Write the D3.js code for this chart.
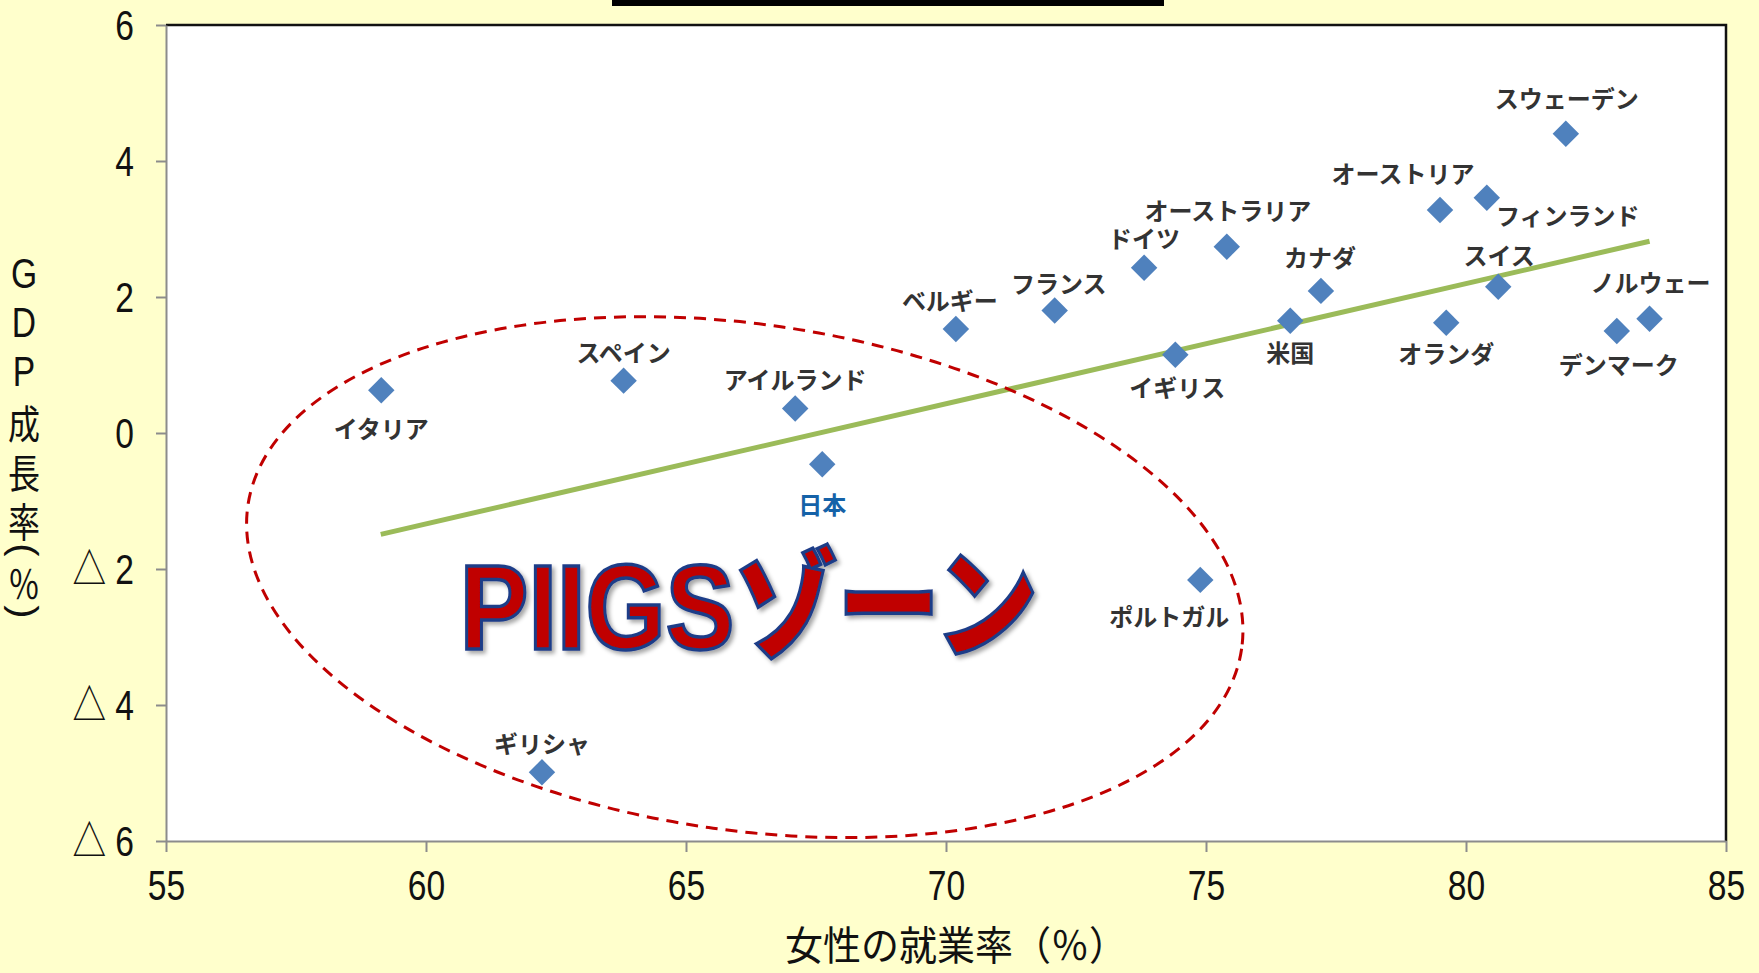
<!DOCTYPE html>
<html>
<head>
<meta charset="utf-8">
<title>女性の就業率とGDP成長率</title>
<style>
  body {margin: 0; background: #FFFFCC;}
  svg {display: block;}
  .lbl {font-family: "Noto Sans CJK JP", sans-serif; font-size: 24px; font-weight: 700; fill: #333;}
  .tick text {font-family: "Liberation Sans", "Noto Sans CJK JP", sans-serif; font-size: 42px; fill: #111;}
</style>
</head>
<body>
<svg></svg>
<script src="https://cdn.jsdelivr.net/npm/d3@7"></script>
<script>
// data
const countries = ["イタリア", "スペイン", "アイルランド", "日本", "ギリシャ", "ポルトガル",
  "ベルギー", "フランス", "ドイツ", "オーストラリア", "イギリス", "米国", "カナダ",
  "オーストリア", "フィンランド", "スウェーデン", "スイス", "オランダ", "ノルウェー", "デンマーク"];
const employment = [59.14, 63.80, 67.10, 67.62, 62.23, 74.89,
  70.19, 72.09, 73.81, 75.40, 74.41, 76.62, 77.21,
  79.50, 80.40, 81.92, 80.62, 79.62, 83.53, 82.90];
const growth = [0.63, 0.77, 0.36, -0.46, -4.99, -2.16,
  1.53, 1.80, 2.43, 2.74, 1.15, 1.65, 2.09,
  3.28, 3.46, 4.40, 2.15, 1.62, 1.68, 1.50];
const trendX = [59.13, 83.53];
const trendY = [-1.49, 2.82];
const xTicks = [55, 60, 65, 70, 75, 80, 85];
const yTicks = [6, 4, 2, 0, -2, -4, -6];

// label placement (px offset from marker)
const labelOffset = [[0, 37], [0, -29], [0, -30], [0, 39], [0, -30], [-31, 36],
  [-6, -29], [4, -28], [0, -30], [1, -37], [2, 32], [0, 31], [-1, -34],
  [-37, -37], [81, 17], [1, -36], [1, -32], [0, 30], [1, -37], [2, 32]];

const W = 1759, H = 973;
const margin = {left: 166, right: 33, top: 25, bottom: 132};

const svg = d3.select("svg").attr("width", W).attr("height", H);

const x = d3.scaleLinear().domain([55, 85]).range([margin.left, W - margin.right]);
const y = d3.scaleLinear().domain([-6, 6]).range([H - margin.bottom, margin.top]);

const defs = svg.append("defs");
const f = defs.append("filter").attr("id", "shadow").attr("x", "-10%").attr("y", "-20%")
  .attr("width", "130%").attr("height", "150%");
f.append("feDropShadow").attr("dx", 3).attr("dy", 3).attr("stdDeviation", 2)
  .attr("flood-color", "#000").attr("flood-opacity", 0.35);

// cut-off title box at top
svg.append("rect").attr("x", 612).attr("y", -10).attr("width", 552).attr("height", 16)
  .attr("fill", "#000");

// plot area
svg.append("rect")
  .attr("x", x(55)).attr("y", y(6))
  .attr("width", x(85) - x(55)).attr("height", y(-6) - y(6))
  .attr("fill", "#fff");
svg.append("path")
  .attr("d", `M${x(55)},${y(6)}H${x(85)}V${y(-6)}`)
  .attr("fill", "none").attr("stroke", "#111").attr("stroke-width", 2.5);

// axes
const xAxis = svg.append("g")
  .attr("transform", `translate(0,${y(-6)})`)
  .call(d3.axisBottom(x).tickValues(xTicks).tickSize(11).tickSizeOuter(0));
xAxis.selectAll("text").attr("y", 29).attr("dy", "0.71em").attr("transform", "scale(0.8,1)");

const yAxis = svg.append("g")
  .attr("transform", `translate(${x(55)},0)`)
  .call(d3.axisLeft(y).tickValues(yTicks).tickSize(10).tickSizeOuter(0)
    .tickFormat(d => d < 0 ? "△ " + (-d) : d));
yAxis.selectAll("text").attr("x", -40).attr("dy", "0.35em").attr("transform", "scale(0.8,1)");

svg.selectAll(".domain, .tick line").attr("stroke", "#8c8c8c").attr("stroke-width", 2);

// trend line
svg.append("line")
  .attr("x1", x(trendX[0])).attr("y1", y(trendY[0]))
  .attr("x2", x(trendX[1])).attr("y2", y(trendY[1]))
  .attr("stroke", "#9BBB59").attr("stroke-width", 5);

// PIIGS ellipse (centre in data units)
svg.append("ellipse")
  .attr("cx", 0).attr("cy", 0).attr("rx", 502).attr("ry", 253)
  .attr("transform", `translate(${x(66.13)},${y(-2.12)}) rotate(8.2)`)
  .attr("fill", "none").attr("stroke", "#C00000").attr("stroke-width", 3)
  .attr("stroke-dasharray", "12,8");

// markers
const pts = countries.map((c, i) => ({name: c, ex: employment[i], g: growth[i], off: labelOffset[i]}));
const diamond = d3.symbol().type(d3.symbolSquare).size(350);
svg.append("g").selectAll("path").data(pts).join("path")
  .attr("d", diamond)
  .attr("transform", d => `translate(${x(d.ex)},${y(d.g)}) rotate(45)`)
  .attr("fill", "#4F81BD");

svg.append("g").selectAll("text").data(pts).join("text")
  .attr("class", "lbl")
  .attr("x", d => x(d.ex) + d.off[0])
  .attr("y", d => y(d.g) + d.off[1])
  .attr("text-anchor", "middle")
  .attr("dominant-baseline", "central")
  .style("fill", d => d.name === "日本" ? "#1562A8" : null)
  .text(d => d.name);

// PIIGS zone annotation
svg.append("text")
  .attr("x", x(60.65)).attr("y", y(-3.18))
  .attr("textLength", 578).attr("lengthAdjust", "spacingAndGlyphs")
  .attr("font-family", "'Liberation Sans', 'Noto Sans CJK JP', sans-serif")
  .attr("font-size", 120).attr("font-weight", 900)
  .attr("fill", "#C00000").attr("stroke", "#1F3C88").attr("stroke-width", 3.5)
  .attr("filter", "url(#shadow)")
  .text("PIIGSゾーン");

// x axis title
svg.append("text")
  .attr("transform", `translate(${(x(55) + x(85)) / 2 + 10},943) scale(0.95,1)`)
  .attr("text-anchor", "middle").attr("dominant-baseline", "central")
  .attr("font-family", "'Noto Sans CJK JP', sans-serif").attr("font-size", 40)
  .attr("fill", "#111")
  .text("女性の就業率（％）");

// y axis title, stacked upright; parentheses turned for vertical setting
const yTitle = ["G", "D", "P", "成", "長", "率", "(", "％", ")"];
const half = new Set(["(", "％", ")"]);
let cy = 274;
const yTitlePos = yTitle.map((c, i) => {
  if (i > 0) cy += (half.has(c) || half.has(yTitle[i - 1])) ? 31 : 49;
  return {c, cy};
});
svg.append("g").selectAll("text").data(yTitlePos).join("text")
  .attr("transform", d => (c => c === "(" || c === ")"
      ? `translate(24,${d.cy}) rotate(90) scale(1,0.9)`
      : `translate(24,${d.cy}) scale(0.8,1)`)(d.c))
  .attr("text-anchor", "middle").attr("dominant-baseline", "central")
  .attr("font-family", d => /[A-Z()]/.test(d.c) ? "'Liberation Sans', sans-serif" : "'Noto Sans CJK JP', sans-serif")
  .attr("font-size", d => /[A-Z]/.test(d.c) ? 42 : 40)
  .attr("fill", "#111")
  .text(d => d.c);
</script>
</body>
</html>
